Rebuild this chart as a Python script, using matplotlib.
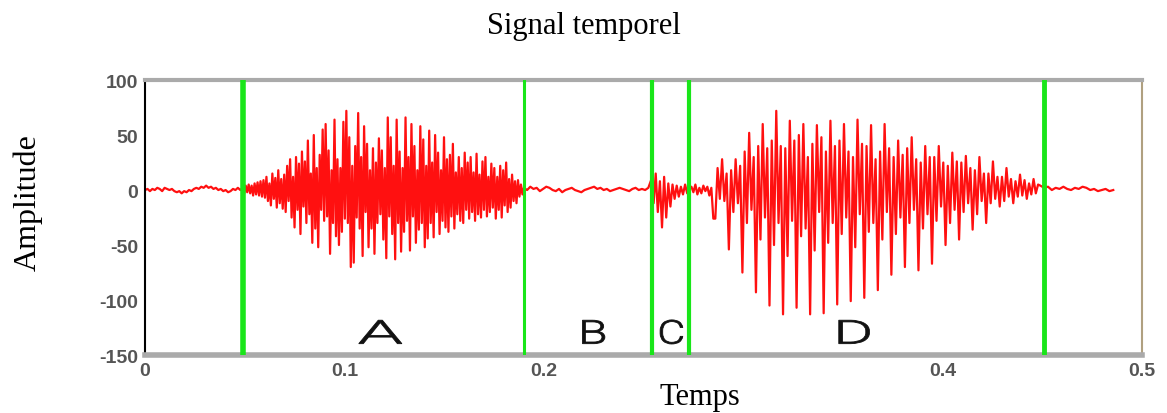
import numpy as np
import matplotlib
matplotlib.use('Agg')
import matplotlib.pyplot as plt
from matplotlib.textpath import TextPath
from matplotlib.patches import PathPatch
from matplotlib.font_manager import FontProperties
import matplotlib.transforms as mtransforms

# segments du signal
t_bounds = [0.0, 0.049, 0.190, 0.254, 0.274, 0.286, 0.449, 0.4875]

quiet1 = [0, 1, -1, 1, 0, 2, 1, -1, 2, 1, 0, 1, -1, -2, -1, -3, -1, -2, 0, -1,
          1, 2, 1, 3, 2, 4, 2, 3, 1, 2, 0, 1, -1, 0, -2, -1, 1, 0, 2, 0]
seg_a = [2, -3, 4, -2, 5, -3, 4, -5, 6, -4, 7, -5, 8, -6,
         9, -7, 12, -10, 6, -14, 15, -8, 11, -16, 18, -12, 10, -17,
         14, -20, 22, -10, 28, -25, 12, -34, 30, -18, 24, -40, 35, -15,
         26, -30, 45, -22, 15, -48, 50, -35, 20, -52, 32, -18, 55, -28,
         60, -24, 36, -58, 18, -30, 64, -42, 28, -50, 20, -38, 62, -26,
         72, -30, 48, -70, 22, -66, 40, -25, 70, -35, 30, -60, 58, -20,
         42, -52, 18, -35, 38, -58, 25, -30, 47, -22, 36, -45, 20, -62,
         66, -24, 48, -40, 22, -63, 64, -30, 35, -56, 20, -38, 66, -28,
         30, -55, 60, -24, 40, -48, 18, -36, 58, -30, 46, -52, 22, -44,
         54, -30, 25, -43, 50, -20, 34, -40, 18, -28, 48, -34, 28, -38,
         32, -24, 42, -35, 16, -22, 30, -28, 20, -30, 34, -18, 25, -26,
         30, -20, 16, -28, 33, -22, 14, -25, 26, -18, 30, -24, 12, -20,
         24, -16, 20, -26, 12, -18, 22, -25, 18, -14, 25, -20, 10, -16,
         14, -10, 8, -12, 9, -6, 5, -4]
quiet2 = [2, 0, 3, 1, 2, -1, 1, 3, 2, 0, -1, 1, -2, 0, 1, 2, 0, -1, -2, 0,
          1, 2, 3, 1, 2, 0, 1, -1, 0, 1, 2, 1, 0, -1, 1, 2, 0, 1, 0, 2]
seg_c = [10, -12, 15, -20, 8, -34, 12, -25, 6, -15, 5, -8, 4, -6, 3, -4, 5, -3, 2]
quiet3 = [3, -2, 5, -4, 2, -3, 4, -1, 3, -5, 2, -26]
seg_d = [-26, 20, -8, 28, -10, 15,
         -54, 18, -20, 28, -12, 22,
         -75, 35, -30, 52, -18, 30,
         -93, 40, -45, 60, -25, 38,
         -105, 45, -50, 72, -30, 40,
         -113, 38, -60, 63, -28, 45,
         -107, 50, -42, 60, -35, 30,
         -113, 42, -55, 59, -20, 48,
         -112, 35, -48, 63, -30, 40,
         -104, 45, -40, 60, -25, 35,
         -101, 30, -52, 64, -22, 42,
         -98, 40, -38, 59, -30, 28,
         -91, 35, -45, 60, -20, 38,
         -77, 30, -40, 45, -25, 32,
         -70, 38, -30, 48, -18, 28,
         -73, 25, -35, 40, -22, 30,
         -67, 30, -28, 40, -15, 25,
         -50, 22, -30, 34, -18, 26,
         -45, 25, -20, 31, -12, 20,
         -36, 18, -22, 30, -10, 15,
         -30, 15, -12, 26, -8, 12,
         -15, 12, -10, 20, -6, 10,
         -12, 8, -6, 14, -5, 9,
         -8, 6, -4, 10, -3, 5]
tail = [4, 2, 3, 0, 2, 1, 3, 1, 0, 2, 1, 3, 2, 0, 1, -1, 0, 1, -1, 0]

segments = [quiet1, seg_a, quiet2, seg_c, quiet3, seg_d, tail]

boundaries = [0.049, 0.190, 0.254, 0.273, 0.451]
letters = ['A', 'B', 'C', 'D']
letter_x = [0.118, 0.225, 0.264, 0.3556]
letter_y = -129
letter_stretch = [2.2, 1.45, 1.3, 1.85]

# construction du signal
t_list, y_list = [], []
for i, seg in enumerate(segments):
    t_list.append(np.linspace(t_bounds[i], t_bounds[i + 1], len(seg), endpoint=False))
    y_list.append(np.array(seg, dtype=float))
t = np.concatenate(t_list)
y = np.concatenate(y_list)

fig = plt.figure(figsize=(11.67, 4.14), dpi=100)
ax = fig.add_axes([0.1243, 0.140, 0.8543, 0.6643])

ax.plot(t, y, color='#ff1010', lw=1.6)

widths = [4.0, 2.2, 3.0, 3.0, 3.5]
for b, w in zip(boundaries, widths):
    ax.axvline(b, color='#19e619', lw=w, zorder=3)

ax.set_xlim(0, 0.5)
ax.set_ylim(-150, 100)

# lettres étirées horizontalement comme sur l'original
fp = FontProperties(family='Roboto', weight=300)
for lab, lx, st in zip(letters, letter_x, letter_stretch):
    tp = TextPath((0, 0), lab, size=33, prop=fp)
    ext = tp.get_extents()
    cx, cy = (ext.x0 + ext.x1) / 2, (ext.y0 + ext.y1) / 2
    px, py = ax.transData.transform((lx, letter_y))
    tr = mtransforms.Affine2D().translate(-cx, -cy).scale(st, 1.0).translate(px, py)
    ax.add_artist(PathPatch(tp, transform=tr, facecolor='#111111',
                            edgecolor='#111111', lw=0.6, zorder=4))

ax.set_xticks([0, 0.1, 0.2, 0.3, 0.4, 0.5])
ax.set_xticklabels(['0', '0.1', '0.2', '', '0.4', '0.5'])
ax.set_yticks([-150, -100, -50, 0, 50, 100])
ax.set_yticklabels(['-150', '-100', '-50', '0', '50', '100'])
ax.tick_params(axis='both', length=0, labelsize=14, labelcolor='#555555', pad=5)
for lb in ax.get_xticklabels() + ax.get_yticklabels():
    lb.set_fontweight('bold')
    lb.set_family('Liberation Sans')

ax.spines['left'].set_color('black')
ax.spines['left'].set_linewidth(1.5)
ax.spines['bottom'].set_color('#aaaaaa')
ax.spines['bottom'].set_linewidth(4)
ax.spines['top'].set_color('#aaaaaa')
ax.spines['top'].set_linewidth(3)
ax.spines['right'].set_color('#b0a080')
ax.spines['right'].set_linewidth(1.5)

fig.text(0.5, 0.935, 'Signal temporel', family='Liberation Serif', fontsize=22,
         ha='center', va='center')
fig.text(0.600, 0.04, 'Temps', family='Liberation Serif', fontsize=22,
         ha='center', va='center')
fig.text(0.024, 0.51, 'Amplitude', family='Liberation Serif', fontsize=23,
         ha='center', va='center', rotation=90)

plt.savefig('out.png', dpi=100)
